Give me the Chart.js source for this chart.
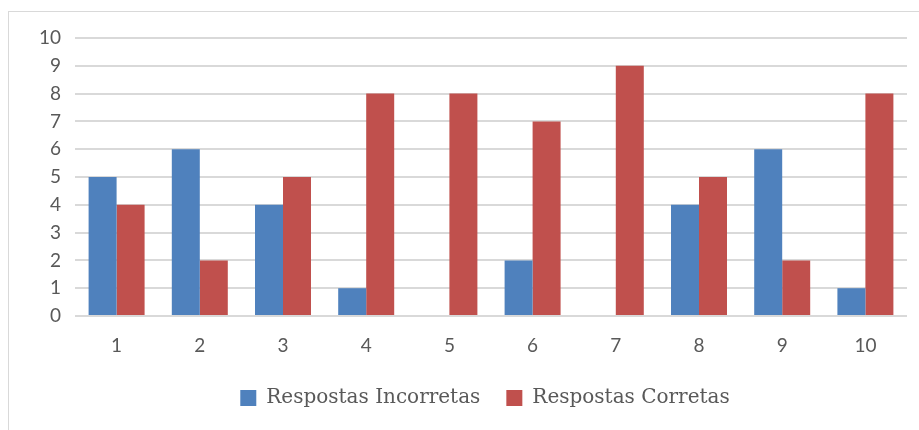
<!DOCTYPE html>
<html>
<head>
<meta charset="utf-8">
<script src="https://cdn.jsdelivr.net/npm/chart.js@4/dist/chart.umd.min.js"></script>
<style>
  html, body { margin: 0; padding: 0; background: #ffffff; }
  #wrap { width: 919px; height: 430px; position: relative; }
</style>
</head>
<body>
<div id="wrap"><canvas id="c" width="919" height="430"></canvas></div>
<script>
const categories = ['1', '2', '3', '4', '5', '6', '7', '8', '9', '10'];
const incorretas = [5, 6, 4, 1, 0, 2, 0, 4, 6, 1];
const corretas = [4, 2, 5, 8, 8, 7, 9, 5, 2, 8];
const seriesNames = ['Respostas Incorretas', 'Respostas Corretas'];

const tickFont = { family: 'Lato, "Open Sans", sans-serif', size: 19 };
const legendFont = { family: '"DejaVu Serif", "Liberation Serif", serif', size: 20 };

// thin frame around the whole chart
const framePlugin = {
  id: 'frame',
  beforeDraw(chart) {
    const ctx = chart.ctx;
    ctx.save();
    ctx.strokeStyle = '#d9d9d9';
    ctx.lineWidth = 1;
    ctx.strokeRect(8.5, 11.5, 940, 460);
    ctx.restore();
  }
};

// centre the legend under the plot area rather than the whole canvas
const legendShift = {
  id: 'legendShift',
  afterLayout(chart) {
    const lg = chart.legend;
    if (!lg) return;
    const area = chart.chartArea;
    const dx = (area.left + area.right) / 2 - (lg.left + lg.right) / 2 - 6;
    lg.left += dx;
    lg.right += dx;
  }
};

new Chart(document.getElementById('c'), {
  type: 'bar',
  data: {
    labels: categories,
    datasets: [
      { label: seriesNames[0], data: incorretas, backgroundColor: '#4f81bd', borderWidth: 0 },
      { label: seriesNames[1], data: corretas, backgroundColor: '#c0504d', borderWidth: 0 }
    ]
  },
  options: {
    responsive: false,
    animation: false,
    layout: { padding: { left: 0, top: 38, right: 12, bottom: 12 } },
    datasets: { bar: { categoryPercentage: 0.673, barPercentage: 1.0 } },
    scales: {
      x: {
        grid: { display: false, drawTicks: false },
        border: { display: false },
        ticks: { color: '#595959', font: tickFont, padding: 18 },
        afterFit(scale) { scale.height = 46; }
      },
      y: {
        min: 0, max: 10,
        grid: { color: '#d9d9d9', lineWidth: 2, drawTicks: false },
        border: { display: false },
        ticks: { stepSize: 1, color: '#595959', font: tickFont, padding: 14 },
        afterFit(scale) { scale.width = 75; }
      }
    },
    plugins: {
      legend: {
        position: 'bottom',
        labels: {
          boxWidth: 16, boxHeight: 16, padding: 26,
          color: '#595959', font: legendFont
        }
      },
      tooltip: { enabled: false }
    }
  },
  plugins: [framePlugin, legendShift]
});
</script>
</body>
</html>
